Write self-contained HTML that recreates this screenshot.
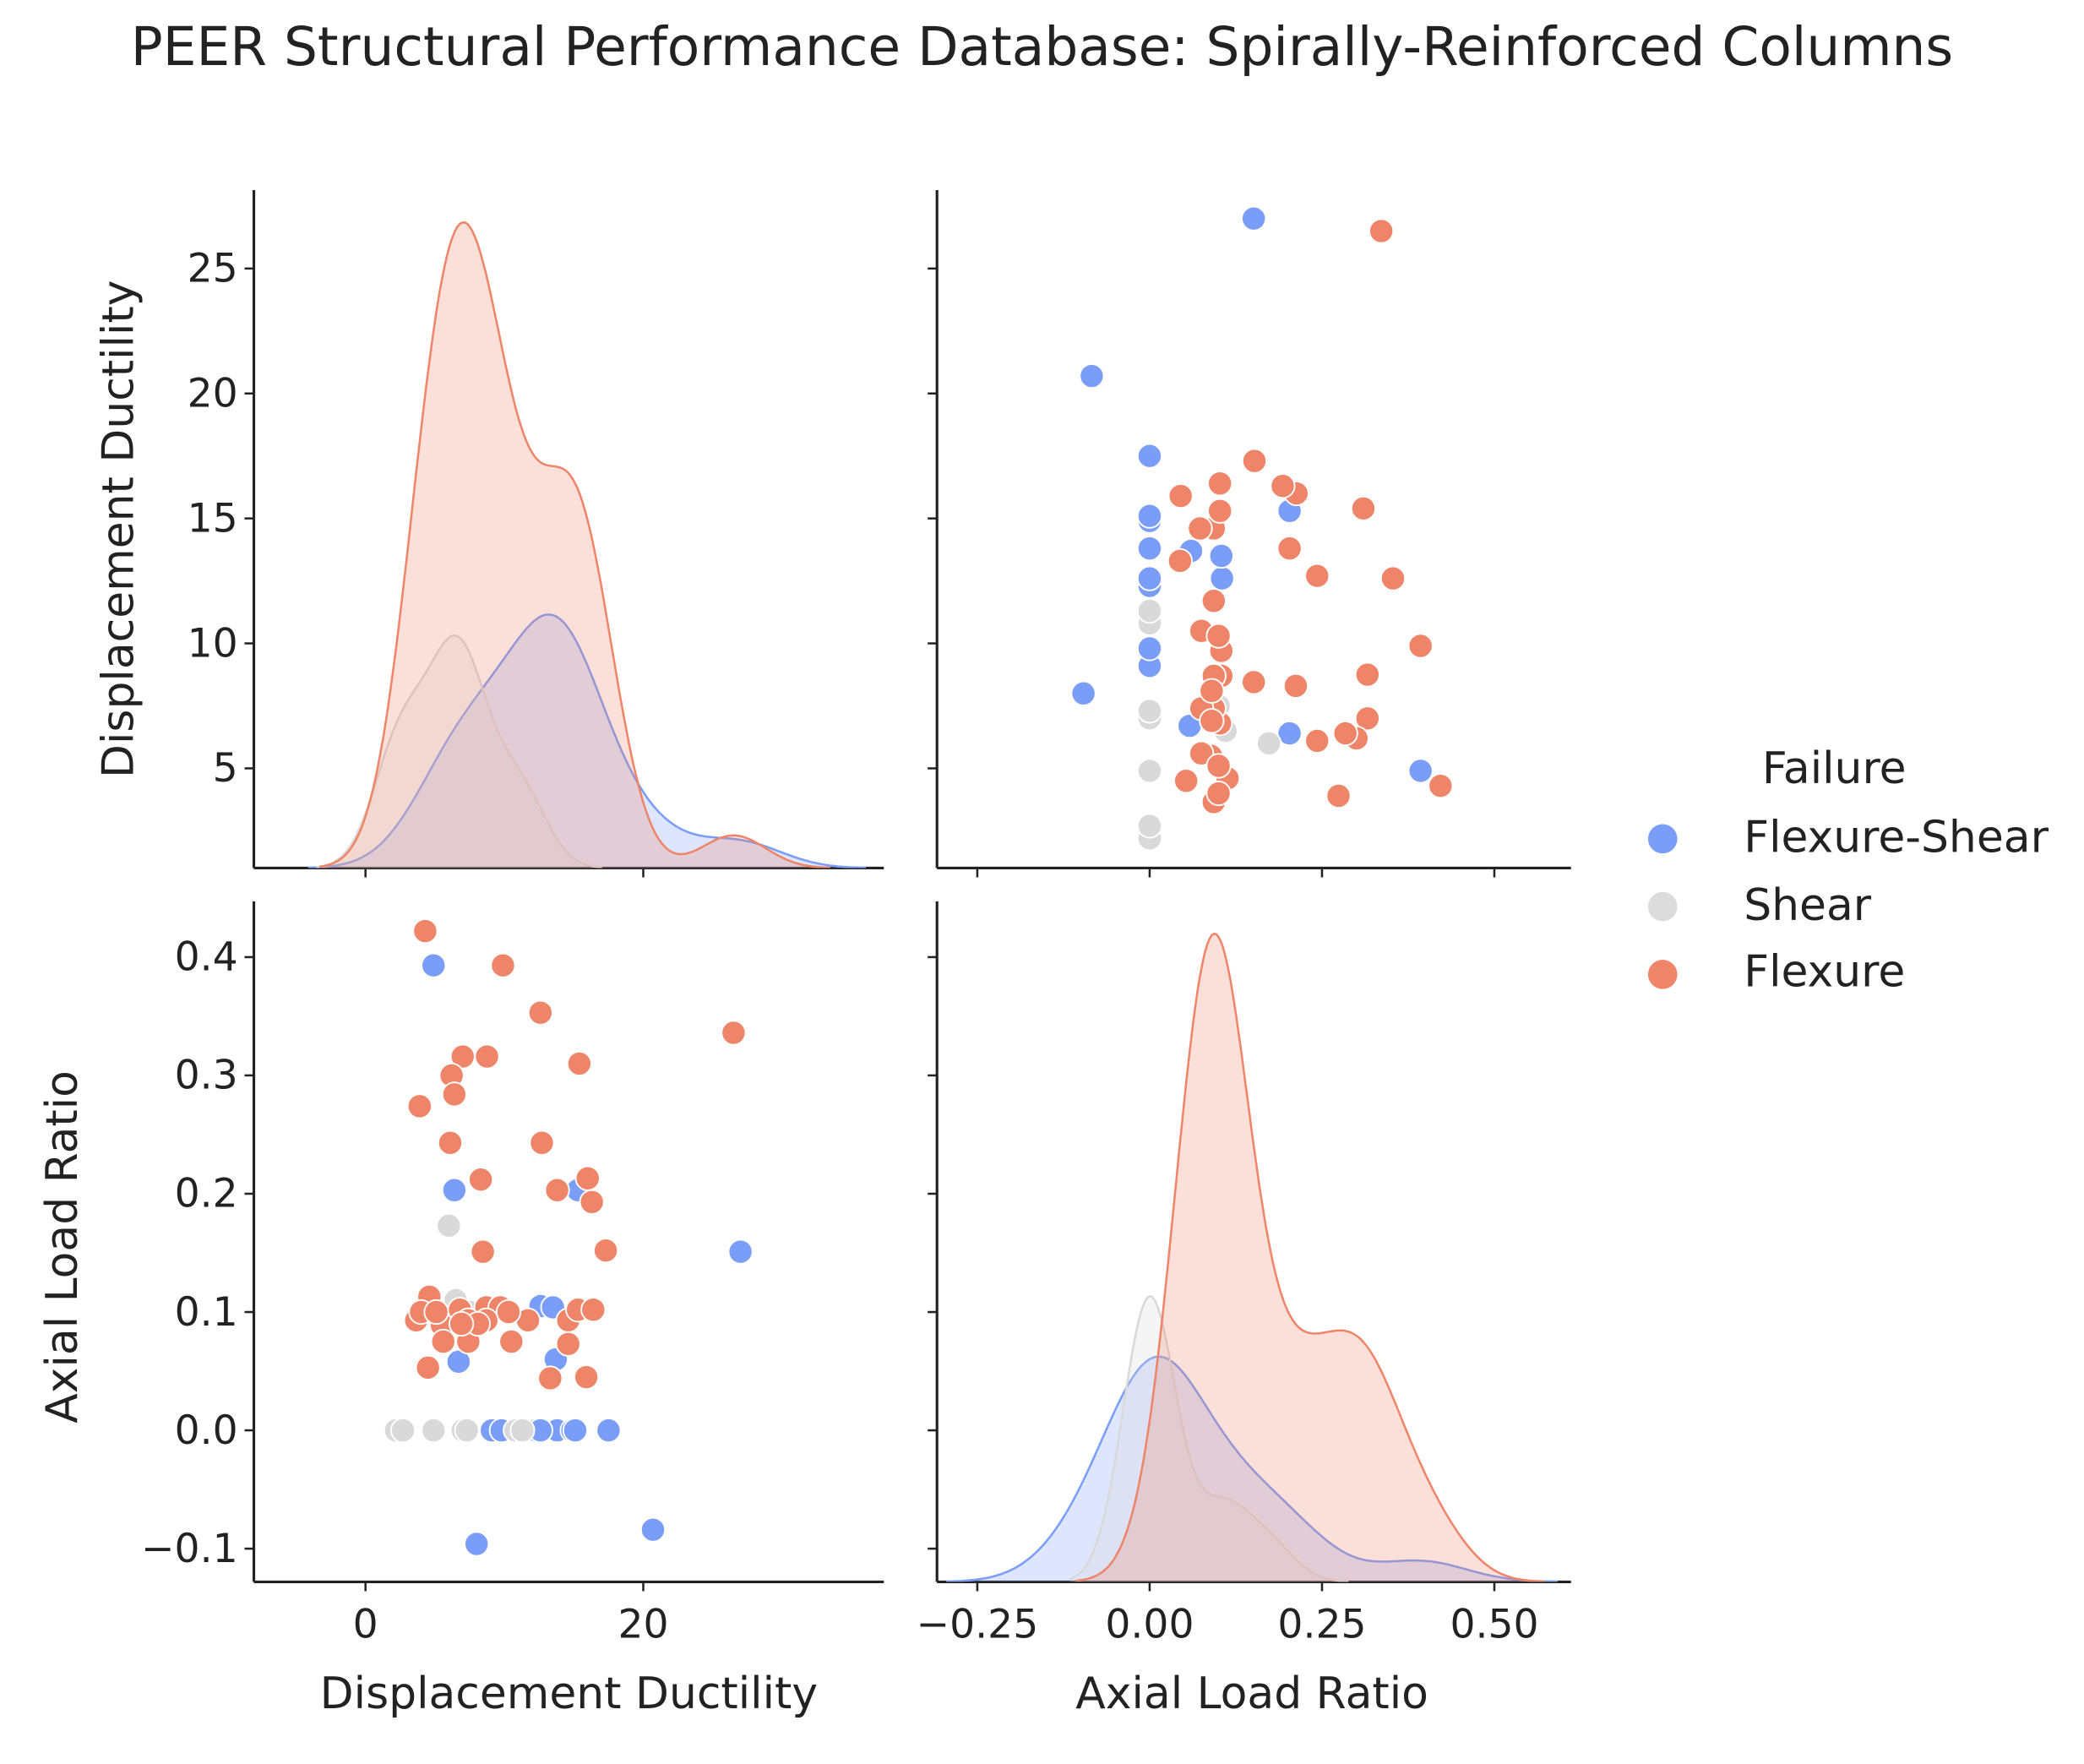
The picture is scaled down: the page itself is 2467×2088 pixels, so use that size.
<!DOCTYPE html>
<html><head><meta charset="utf-8"><style>
html,body{margin:0;padding:0;background:#fff}
svg{display:block}
text{font-family:"DejaVu Sans","Liberation Sans",sans-serif;fill:#222}
</style></head><body>
<svg id="chart" width="2467" height="2088" viewBox="0 0 1568 1327" preserveAspectRatio="none" xmlns="http://www.w3.org/2000/svg">
<defs>
<clipPath id="cTL"><rect x="191" y="143" width="474" height="510"/></clipPath>
<clipPath id="cBR"><rect x="705" y="678" width="477" height="512"/></clipPath>
</defs>
<text x="784" y="49" text-anchor="middle" font-size="40">PEER Structural Performance Database: Spirally-Reinforced Columns</text>
<g id="plots"></g>
<g>
<text x="1380" y="589" text-anchor="middle" font-size="33">Failure</text>
<circle cx="1251" cy="631" r="11" fill="#7a9df8"/>
<text x="1312" y="641" font-size="33">Flexure-Shear</text>
<circle cx="1251" cy="682" r="11" fill="#dcdcdc"/>
<text x="1312" y="692" font-size="33">Shear</text>
<circle cx="1251" cy="733" r="11" fill="#ee8468"/>
<text x="1312" y="742" font-size="33">Flexure</text>
</g>
</svg>
<script>
// data: displacement ductility, axial load ratio, failure class (0 Flexure-Shear, 1 Shear, 2 Flexure)
const classes=["Flexure-Shear","Shear","Flexure"];
const displacement=[4.3,4.9,9.9,12.6,26.5,7.0,8.75,15.4,6.2,6.4,3.9,6.1,12.7,8.3,6.4,13.8,15.3,16.0,16.3,6.0,8.45,17.3,27.0,4.6,3.65,5.5,6.8,8.7,9.7,8.7,7.4,11.7,14.6,15.3,16.4,12.6,13.5,5.6,7.4,10.5,14.6,6.7,13.7,4.5,13.3,15.9,2.4,4.9,7.0,9.1,10.8,12.3,13.8,14.9,17.5,20.7,8.0,2.2,2.7,15.1,12.6,11.3,9.8,7.3,10.3,8.1,6.9,4.0,5.1,7.5,6.5];
const axialLoad=[0.422,0.393,0.393,0.353,0.336,0.316,0.316,0.31,0.30,0.284,0.274,0.243,0.243,0.212,0.203,0.203,0.203,0.213,0.193,0.173,0.151,0.152,0.151,0.113,0.093,0.089,0.102,0.104,0.104,0.093,0.093,0.093,0.093,0.102,0.102,0.105,0.104,0.075,0.075,0.075,0.073,0.058,0.06,0.053,0.044,0.045,0,0,0,0,0,0,0,0,0,-0.084,-0.096,0,0,0,0,0,0,0,0.1,0.09,0.09,0.1,0.1,0.1,0.11];
const failure=[2,0,2,2,2,2,2,2,2,2,2,2,2,2,0,2,0,2,2,1,2,2,0,2,2,2,2,2,2,2,2,2,2,2,2,0,0,2,2,2,2,0,0,2,2,2,1,1,1,0,1,0,0,0,0,0,0,1,1,0,0,1,0,1,2,2,2,2,2,1,1];
const dispTicks=[5,10,15,20,25];
const dispXTicks=[0,20];
const axialYTicks=[-0.1,0.0,0.1,0.2,0.3,0.4];
const axialXTicks=[-0.25,0.00,0.25,0.50];
const colors=["#7a9df8","#d9d9d9","#ee8468"];

const NS="http://www.w3.org/2000/svg";
const g=document.getElementById('plots');
function el(t,a,p){const e=document.createElementNS(NS,t);for(const k in a)e.setAttribute(k,a[k]);(p||g).appendChild(e);return e;}
const xDisp=v=>275+v*10.45, yDisp=v=>578-(v-5)*18.8;
const xAx=v=>865+v*518.7, yAx=v=>1076-v*890;
const L={l:191,r:665,t1:143,b1:653,t2:678,b2:1190}, R={l:705,r:1182};

function spine(x1,y1,x2,y2,name){const e=el('line',{x1,y1,x2,y2,stroke:'#222','stroke-width':2});

}
spine(L.l,L.t1,L.l,L.b1,'tl-y-axis');spine(L.l,L.b1,L.r,L.b1,'tl-x-axis');
spine(R.l,L.t1,R.l,L.b1,'tr-y-axis');spine(R.l,L.b1,R.r,L.b1,'tr-x-axis');
spine(L.l,L.t2,L.l,L.b2,'bl-y-axis');spine(L.l,L.b2,L.r,L.b2,'bl-x-axis');
spine(R.l,L.t2,R.l,L.b2,'br-y-axis');spine(R.l,L.b2,R.r,L.b2,'br-x-axis');

function tick(x1,y1,x2,y2){const e=el('line',{x1,y1,x2,y2,stroke:'#222','stroke-width':1.6});

}
function label(x,y,s,anchor,name){const e=el('text',{x,y,'font-size':30,'text-anchor':anchor});e.textContent=s;

}
function fmtAx(v){return (v<0?'\u2212':'')+Math.abs(v).toFixed(1);}
function fmtAx2(v){return (v<0?'\u2212':'')+Math.abs(v).toFixed(2);}
dispTicks.forEach(v=>{const y=yDisp(v);tick(L.l-7,y,L.l,y);tick(R.l-7,y,R.l,y);label(L.l-12,y+10,String(v),'end','disp-y-tick-label');});
axialYTicks.forEach(v=>{const y=yAx(v);tick(L.l-7,y,L.l,y);tick(R.l-7,y,R.l,y);label(L.l-12,y+10,fmtAx(v),'end','axial-y-tick-label');});
dispXTicks.forEach(v=>{const x=xDisp(v);tick(x,L.b1,x,L.b1+7);tick(x,L.b2,x,L.b2+7);label(x,L.b2+42,String(v),'middle','disp-x-tick-label');});
axialXTicks.forEach(v=>{const x=xAx(v);tick(x,L.b1,x,L.b1+7);tick(x,L.b2,x,L.b2+7);label(x,L.b2+42,fmtAx2(v),'middle','axial-x-tick-label');});

function axTitle(x,y,s,rot,name){const e=el('text',{x,y,'font-size':33,'text-anchor':'middle'});if(rot)e.setAttribute('transform',`rotate(-90 ${x} ${y})`);e.textContent=s;

}
axTitle(100,398,'Displacement Ductility',true,'y-axis-title-displacement');
axTitle(58,938,'Axial Load Ratio',true,'y-axis-title-axial');
axTitle(428,1285,'Displacement Ductility',false,'x-axis-title-displacement');
axTitle(942,1285,'Axial Load Ratio',false,'x-axis-title-axial');

function kde(vals,nTot){const n=vals.length;const m=vals.reduce((a,b)=>a+b,0)/n;
const sd=Math.sqrt(vals.reduce((a,b)=>a+(b-m)*(b-m),0)/(n-1))||1e-3;const bw=sd*Math.pow(n,-0.2);
const lo=Math.min(...vals)-3*bw,hi=Math.max(...vals)+3*bw,pts=[];
for(let i=0;i<=200;i++){const x=lo+(hi-lo)*i/200;let s=0;vals.forEach(v=>{const z=(x-v)/bw;s+=Math.exp(-0.5*z*z);});
pts.push([x,s/(nTot*bw*Math.sqrt(2*Math.PI))]);}return pts;}
function diag(valsArr,xf,top,bot,clip,prefix){
const N=valsArr.length;const curves=[0,1,2].map(c=>kde(valsArr.filter((v,i)=>failure[i]===c),N));
let mx=0;curves.forEach(cv=>cv.forEach(p=>mx=Math.max(mx,p[1])));
const yf=d=>bot-d/(mx*1.05)*(bot-top);
const grp=el('g',{'clip-path':`url(#${clip})`});
curves.forEach((cv,c)=>{let d=`M${xf(cv[0][0])},${bot}`;cv.forEach(p=>d+=`L${xf(p[0]).toFixed(1)},${yf(p[1]).toFixed(1)}`);
d+=`L${xf(cv[cv.length-1][0])},${bot}Z`;
const f=el('path',{d,fill:colors[c],'fill-opacity':0.25,stroke:'none'},grp);


let d2='';cv.forEach((p,i)=>d2+=(i?'L':'M')+xf(p[0]).toFixed(1)+','+yf(p[1]).toFixed(1));
const l=el('path',{d:d2,fill:'none',stroke:colors[c],'stroke-width':1.6},grp);

});}
diag(displacement,xDisp,L.t1,L.b1,'cTL','displacement');
diag(axialLoad,xAx,L.t2,L.b2,'cBR','axial');

[0,1,2].forEach(c=>displacement.forEach((d,i)=>{if(failure[i]!==c)return;
const a=el('circle',{cx:xAx(axialLoad[i]),cy:yDisp(d),r:9,fill:colors[c],stroke:'#fff','stroke-width':1.2});


const b=el('circle',{cx:xDisp(d),cy:yAx(axialLoad[i]),r:9,fill:colors[c],stroke:'#fff','stroke-width':1.2});

}));
</script>
</body></html>
